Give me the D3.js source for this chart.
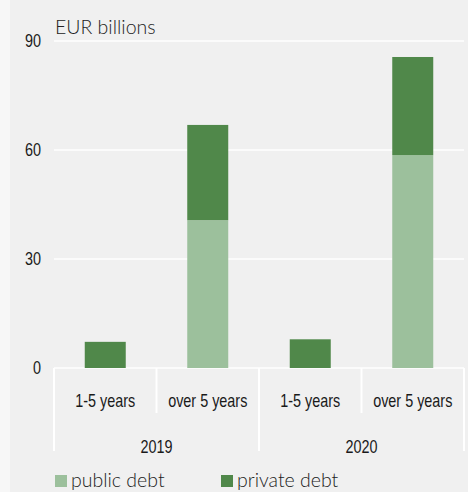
<!DOCTYPE html>
<html>
<head>
<meta charset="utf-8">
<script src="https://cdn.jsdelivr.net/npm/d3@7"></script>
<style>
    body { margin: 0; background: #f7f7f7; }
    svg { display: block; }
    .tick-label { font-family: "Liberation Sans", Arial, sans-serif; font-size: 18px; fill: #1a1a1a; }
    .light { font-family: Lato, "Open Sans", sans-serif; font-weight: 300; font-size: 19.5px; fill: #222; }
</style>
</head>
<body>
<div id="chart"></div>
<script>
(function (d3) {
    'use strict';

    var years = ['2019', '2020'];
    var maturities = ['1-5 years', 'over 5 years'];
    var publicDebt = [0, 40.7, 0, 58.6];
    var privateDebt = [7.2, 26.2, 7.9, 27.0];
    var yTicks = [0, 30, 60, 90];
    var seriesNames = ['public debt', 'private debt'];
    var seriesColors = ['#9cc09c', '#50884a'];

    var width = 468, height = 492;
    var plot = {left: 54, right: 464, top: 41, bottom: 368};
    var narrow = 0.8; // squeeze the sans to look like a condensed face

    var svg = d3.select('#chart').append('svg')
        .attr('width', width)
        .attr('height', height)
    ;

    svg.append('rect')
        .attr('x', 10).attr('y', 0)
        .attr('width', width - 10).attr('height', height)
        .attr('fill', '#f0f0f0')
    ;

    // one band per (year, maturity) pair
    var cats = [];
    years.forEach(function (y) {
        maturities.forEach(function (m) { cats.push(y + '|' + m); });
    });

    var x = d3.scaleBand()
        .domain(cats)
        .range([plot.left, plot.right])
        .paddingInner(0.6)
        .paddingOuter(0.3)
    ;
    var y = d3.scaleLinear().domain([0, 90]).range([plot.bottom, plot.top]);

    // Gridlines
    svg.append('g')
        .selectAll('line')
        .data(yTicks)
        .join('line')
        .attr('x1', plot.left)
        .attr('x2', plot.right)
        .attr('y1', function (d) { return y(d); })
        .attr('y2', function (d) { return y(d); })
        .attr('stroke', '#fff')
        .attr('stroke-width', 1.5)
    ;

    svg.append('g')
        .selectAll('text')
        .data(yTicks)
        .join('text')
        .attr('class', 'tick-label')
        .attr('transform', function (d) { return translate(41, y(d) + 6) + ' scale(' + narrow + ',1)'; })
        .attr('text-anchor', 'end')
        .text(function (d) { return d; })
    ;

    svg.append('text')
        .attr('class', 'light')
        .attr('x', 55)
        .attr('y', 34)
        .text('EUR billions')
    ;

    // Stacked bars
    var rows = cats.map(function (c, i) {
        return {cat: c, 'public debt': publicDebt[i], 'private debt': privateDebt[i]};
    });
    var stacked = d3.stack().keys(seriesNames)(rows);

    svg.append('g')
        .selectAll('g')
        .data(stacked)
        .join('g')
        .attr('fill', function (d, i) { return seriesColors[i]; })
        .selectAll('rect')
        .data(function (d) { return d.filter(function (s) { return s[1] > s[0]; }); })
        .join('rect')
        .attr('x', function (d) { return x(d.data.cat); })
        .attr('width', x.bandwidth())
        .attr('y', function (d) { return y(d[1]); })
        .attr('height', function (d) { return y(d[0]) - y(d[1]); })
    ;

    // Category axis: separators and labels
    var step = x.step();
    var axis = svg.append('g');
    var bounds = d3.range(cats.length + 1).map(function (i) { return plot.left + i * step; });

    axis.selectAll('line')
        .data(bounds)
        .join('line')
        .attr('x1', function (d) { return d; })
        .attr('x2', function (d) { return d; })
        .attr('y1', plot.bottom)
        .attr('y2', function (d, i) { return i % 2 === 0 ? 451 : 413; })
        .attr('stroke', '#fff')
        .attr('stroke-width', 2)
    ;

    axis.selectAll('text.mat')
        .data(cats)
        .join('text')
        .attr('class', 'tick-label mat')
        .attr('transform', function (d) {
            return translate(x(d) + x.bandwidth() / 2, 406.5) + ' scale(' + narrow + ',1)';
        })
        .attr('text-anchor', 'middle')
        .text(function (d) { return d.split('|')[1]; })
    ;

    axis.selectAll('text.year')
        .data(years)
        .join('text')
        .attr('class', 'tick-label year')
        .attr('transform', function (d, i) {
            return translate(plot.left + (2 * i + 1) * step, 452.5) + ' scale(' + narrow + ',1)';
        })
        .attr('text-anchor', 'middle')
        .text(function (d) { return d; })
    ;

    // Legend
    var legendX = [55, 221];
    var legend = svg.append('g')
        .selectAll('g')
        .data(seriesNames)
        .join('g')
        .attr('transform', function (d, i) { return translate(legendX[i], 475); })
    ;
    legend.append('rect')
        .attr('width', 12).attr('height', 12)
        .attr('fill', function (d, i) { return seriesColors[i]; })
    ;
    legend.append('text')
        .attr('class', 'light')
        .attr('x', 16)
        .attr('y', 12)
        .text(function (d) { return d; })
    ;

    function translate(a, b) {
        return 'translate(' + a + ',' + b + ')';
    }

})(d3);
</script>
</body>
</html>
